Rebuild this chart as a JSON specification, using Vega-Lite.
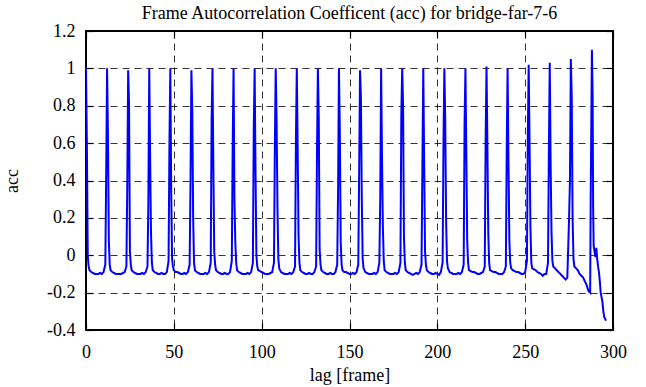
{
  "$schema": "https://vega.github.io/schema/vega-lite/v6.json",
  "width": 527,
  "height": 299,
  "autosize": {"type": "none"},
  "padding": {"left": 86, "top": 31, "right": 33, "bottom": 57},
  "background": "white",
  "config": {
    "view": {"stroke": "black", "strokeWidth": 2},
    "font": "Liberation Serif",
    "axis": {
      "labelFont": "Liberation Serif", "labelFontSize": 18, "labelColor": "black", "labelFlush": false,
      "titleFont": "Liberation Serif", "titleFontSize": 18, "titleFontWeight": "normal", "titleColor": "black",
      "domain": false, "tickColor": "black", "tickSize": -7, "tickWidth": 1.2,
      "gridColor": "black", "gridDash": [7, 5], "gridWidth": 0.8, "gridOpacity": 1
    }
  },
  "title": {"text": "Frame Autocorrelation Coefficent (acc) for bridge-far-7-6", "font": "Liberation Serif", "fontSize": 18, "fontWeight": "normal", "color": "black", "offset": 6, "dy": 7},
  "data": {"values": [
    {"lag":0,"acc":1.0},{"lag":0.5,"acc":0.59},{"lag":1,"acc":0.0},{"lag":1.5,"acc":-0.06},{"lag":2,"acc":-0.08},{"lag":3,"acc":-0.09},{"lag":4,"acc":-0.095},{"lag":5,"acc":-0.1},{"lag":6,"acc":-0.1},{"lag":7,"acc":-0.1},{"lag":8,"acc":-0.095},{"lag":9,"acc":-0.1},{"lag":10,"acc":-0.09},{"lag":11,"acc":-0.05},{"lag":11.5,"acc":0.44},
    {"lag":12,"acc":1.0},{"lag":12.5,"acc":0.64},{"lag":13,"acc":0.08},{"lag":13.5,"acc":-0.05},{"lag":14,"acc":-0.08},{"lag":15,"acc":-0.09},{"lag":16,"acc":-0.095},{"lag":17,"acc":-0.1},{"lag":18,"acc":-0.1},{"lag":19,"acc":-0.1},{"lag":20,"acc":-0.1},{"lag":21,"acc":-0.095},{"lag":22,"acc":-0.09},{"lag":23,"acc":-0.06},{"lag":23.5,"acc":0.38},
    {"lag":24,"acc":0.99},{"lag":24.5,"acc":0.81},{"lag":25,"acc":0.02},{"lag":25.5,"acc":-0.05},{"lag":26,"acc":-0.08},{"lag":27,"acc":-0.09},{"lag":28,"acc":-0.095},{"lag":29,"acc":-0.1},{"lag":30,"acc":-0.1},{"lag":31,"acc":-0.1},{"lag":32,"acc":-0.095},{"lag":33,"acc":-0.1},{"lag":34,"acc":-0.09},{"lag":35,"acc":-0.06},{"lag":35.5,"acc":0.28},
    {"lag":36,"acc":1.0},{"lag":36.5,"acc":0.52},{"lag":37,"acc":0.12},{"lag":37.5,"acc":-0.04},{"lag":38,"acc":-0.08},{"lag":39,"acc":-0.09},{"lag":40,"acc":-0.095},{"lag":41,"acc":-0.1},{"lag":42,"acc":-0.1},{"lag":43,"acc":-0.095},{"lag":44,"acc":-0.1},{"lag":45,"acc":-0.1},{"lag":46,"acc":-0.09},{"lag":47,"acc":-0.03},{"lag":47.5,"acc":0.6},
    {"lag":48,"acc":1.0},{"lag":48.5,"acc":0.35},{"lag":49,"acc":-0.02},{"lag":49.5,"acc":-0.06},{"lag":50,"acc":-0.08},{"lag":51,"acc":-0.09},{"lag":52,"acc":-0.09},{"lag":53,"acc":-0.095},{"lag":54,"acc":-0.1},{"lag":55,"acc":-0.1},{"lag":56,"acc":-0.095},{"lag":57,"acc":-0.1},{"lag":58,"acc":-0.09},{"lag":59,"acc":-0.05},{"lag":59.5,"acc":0.4},
    {"lag":60,"acc":0.99},{"lag":60.5,"acc":0.77},{"lag":61,"acc":0.2},{"lag":61.5,"acc":-0.04},{"lag":62,"acc":-0.08},{"lag":63,"acc":-0.09},{"lag":64,"acc":-0.095},{"lag":65,"acc":-0.1},{"lag":66,"acc":-0.1},{"lag":67,"acc":-0.1},{"lag":68,"acc":-0.095},{"lag":69,"acc":-0.1},{"lag":70,"acc":-0.09},{"lag":71,"acc":-0.04},{"lag":71.5,"acc":0.72},
    {"lag":72,"acc":1.0},{"lag":72.5,"acc":0.47},{"lag":73,"acc":0.02},{"lag":73.5,"acc":-0.05},{"lag":74,"acc":-0.08},{"lag":75,"acc":-0.09},{"lag":76,"acc":-0.095},{"lag":77,"acc":-0.1},{"lag":78,"acc":-0.1},{"lag":79,"acc":-0.095},{"lag":80,"acc":-0.1},{"lag":81,"acc":-0.1},{"lag":82,"acc":-0.09},{"lag":83,"acc":-0.03},{"lag":83.5,"acc":0.58},
    {"lag":84,"acc":1.0},{"lag":84.5,"acc":0.3},{"lag":85,"acc":0.07},{"lag":85.5,"acc":-0.04},{"lag":86,"acc":-0.08},{"lag":87,"acc":-0.09},{"lag":88,"acc":-0.095},{"lag":89,"acc":-0.1},{"lag":90,"acc":-0.1},{"lag":91,"acc":-0.1},{"lag":92,"acc":-0.095},{"lag":93,"acc":-0.1},{"lag":94,"acc":-0.09},{"lag":95,"acc":-0.04},{"lag":95.5,"acc":0.68},
    {"lag":96,"acc":1.0},{"lag":96.5,"acc":0.45},{"lag":97,"acc":0.0},{"lag":97.5,"acc":-0.06},{"lag":98,"acc":-0.08},{"lag":99,"acc":-0.085},{"lag":100,"acc":-0.09},{"lag":101,"acc":-0.095},{"lag":102,"acc":-0.1},{"lag":103,"acc":-0.1},{"lag":104,"acc":-0.1},{"lag":105,"acc":-0.095},{"lag":106,"acc":-0.09},{"lag":107,"acc":-0.04},{"lag":107.5,"acc":0.56},
    {"lag":108,"acc":1.0},{"lag":108.5,"acc":0.72},{"lag":109,"acc":0.25},{"lag":109.5,"acc":-0.02},{"lag":110,"acc":-0.07},{"lag":111,"acc":-0.09},{"lag":112,"acc":-0.095},{"lag":113,"acc":-0.1},{"lag":114,"acc":-0.1},{"lag":115,"acc":-0.1},{"lag":116,"acc":-0.095},{"lag":117,"acc":-0.1},{"lag":118,"acc":-0.09},{"lag":119,"acc":-0.06},{"lag":119.5,"acc":0.62},
    {"lag":120,"acc":1.0},{"lag":120.5,"acc":0.57},{"lag":121,"acc":0.1},{"lag":121.5,"acc":-0.04},{"lag":122,"acc":-0.08},{"lag":123,"acc":-0.09},{"lag":124,"acc":-0.095},{"lag":125,"acc":-0.1},{"lag":126,"acc":-0.1},{"lag":127,"acc":-0.095},{"lag":128,"acc":-0.1},{"lag":129,"acc":-0.1},{"lag":130,"acc":-0.09},{"lag":131,"acc":-0.06},{"lag":131.5,"acc":0.55},
    {"lag":132,"acc":1.0},{"lag":132.5,"acc":0.74},{"lag":133,"acc":0.03},{"lag":133.5,"acc":-0.05},{"lag":134,"acc":-0.08},{"lag":135,"acc":-0.09},{"lag":136,"acc":-0.095},{"lag":137,"acc":-0.1},{"lag":138,"acc":-0.1},{"lag":139,"acc":-0.095},{"lag":140,"acc":-0.1},{"lag":141,"acc":-0.1},{"lag":142,"acc":-0.09},{"lag":143,"acc":-0.05},{"lag":143.5,"acc":0.35},
    {"lag":144,"acc":1.0},{"lag":144.5,"acc":0.65},{"lag":145,"acc":0.07},{"lag":145.5,"acc":-0.05},{"lag":146,"acc":-0.08},{"lag":147,"acc":-0.09},{"lag":148,"acc":-0.09},{"lag":149,"acc":-0.095},{"lag":150,"acc":-0.1},{"lag":151,"acc":-0.1},{"lag":152,"acc":-0.095},{"lag":153,"acc":-0.1},{"lag":154,"acc":-0.09},{"lag":155,"acc":-0.05},{"lag":155.5,"acc":0.45},
    {"lag":156,"acc":0.99},{"lag":156.5,"acc":0.84},{"lag":157,"acc":0.3},{"lag":157.5,"acc":-0.02},{"lag":158,"acc":-0.07},{"lag":159,"acc":-0.09},{"lag":160,"acc":-0.095},{"lag":161,"acc":-0.1},{"lag":162,"acc":-0.1},{"lag":163,"acc":-0.1},{"lag":164,"acc":-0.095},{"lag":165,"acc":-0.1},{"lag":166,"acc":-0.09},{"lag":167,"acc":-0.04},{"lag":167.5,"acc":0.3},
    {"lag":168,"acc":1.0},{"lag":168.5,"acc":0.52},{"lag":169,"acc":0.15},{"lag":169.5,"acc":-0.03},{"lag":170,"acc":-0.08},{"lag":171,"acc":-0.09},{"lag":172,"acc":-0.095},{"lag":173,"acc":-0.1},{"lag":174,"acc":-0.1},{"lag":175,"acc":-0.1},{"lag":176,"acc":-0.095},{"lag":177,"acc":-0.1},{"lag":178,"acc":-0.09},{"lag":179,"acc":-0.04},{"lag":179.5,"acc":0.75},
    {"lag":180,"acc":1.0},{"lag":180.5,"acc":0.8},{"lag":181,"acc":0.1},{"lag":181.5,"acc":-0.04},{"lag":182,"acc":-0.08},{"lag":183,"acc":-0.09},{"lag":184,"acc":-0.095},{"lag":185,"acc":-0.1},{"lag":186,"acc":-0.105},{"lag":187,"acc":-0.1},{"lag":188,"acc":-0.095},{"lag":189,"acc":-0.1},{"lag":190,"acc":-0.09},{"lag":191,"acc":-0.05},{"lag":191.5,"acc":0.48},
    {"lag":192,"acc":1.0},{"lag":192.5,"acc":0.5},{"lag":193,"acc":0.02},{"lag":193.5,"acc":-0.05},{"lag":194,"acc":-0.08},{"lag":195,"acc":-0.09},{"lag":196,"acc":-0.095},{"lag":197,"acc":-0.1},{"lag":198,"acc":-0.1},{"lag":199,"acc":-0.095},{"lag":200,"acc":-0.1},{"lag":201,"acc":-0.105},{"lag":202,"acc":-0.09},{"lag":203,"acc":-0.04},{"lag":203.5,"acc":0.6},
    {"lag":204,"acc":1.0},{"lag":204.5,"acc":0.72},{"lag":205,"acc":0.18},{"lag":205.5,"acc":-0.03},{"lag":206,"acc":-0.07},{"lag":207,"acc":-0.09},{"lag":208,"acc":-0.095},{"lag":209,"acc":-0.1},{"lag":210,"acc":-0.1},{"lag":211,"acc":-0.1},{"lag":212,"acc":-0.095},{"lag":213,"acc":-0.1},{"lag":214,"acc":-0.09},{"lag":215,"acc":-0.05},{"lag":215.5,"acc":0.7},
    {"lag":216,"acc":1.0},{"lag":216.5,"acc":0.55},{"lag":217,"acc":0.08},{"lag":217.5,"acc":-0.04},{"lag":218,"acc":-0.08},{"lag":219,"acc":-0.085},{"lag":220,"acc":-0.09},{"lag":221,"acc":-0.09},{"lag":222,"acc":-0.095},{"lag":223,"acc":-0.1},{"lag":224,"acc":-0.1},{"lag":225,"acc":-0.095},{"lag":226,"acc":-0.09},{"lag":227,"acc":-0.06},{"lag":227.5,"acc":0.62},
    {"lag":228,"acc":1.01},{"lag":228.5,"acc":0.58},{"lag":229,"acc":0.12},{"lag":229.5,"acc":-0.04},{"lag":230,"acc":-0.08},{"lag":231,"acc":-0.085},{"lag":232,"acc":-0.09},{"lag":233,"acc":-0.09},{"lag":234,"acc":-0.095},{"lag":235,"acc":-0.1},{"lag":236,"acc":-0.1},{"lag":237,"acc":-0.1},{"lag":238,"acc":-0.09},{"lag":239,"acc":-0.06},{"lag":239.5,"acc":0.55},
    {"lag":240,"acc":1.0},{"lag":240.5,"acc":0.5},{"lag":241,"acc":0.08},{"lag":241.5,"acc":-0.04},{"lag":242,"acc":-0.07},{"lag":243,"acc":-0.08},{"lag":244,"acc":-0.085},{"lag":245,"acc":-0.09},{"lag":246,"acc":-0.09},{"lag":247,"acc":-0.095},{"lag":248,"acc":-0.1},{"lag":249,"acc":-0.1},{"lag":250,"acc":-0.09},{"lag":251,"acc":-0.03},{"lag":251.5,"acc":0.63},
    {"lag":252,"acc":1.02},{"lag":252.5,"acc":0.6},{"lag":253,"acc":0.15},{"lag":253.5,"acc":-0.04},{"lag":254,"acc":-0.07},{"lag":255,"acc":-0.075},{"lag":256,"acc":-0.08},{"lag":257,"acc":-0.09},{"lag":258,"acc":-0.095},{"lag":259,"acc":-0.1},{"lag":260,"acc":-0.11},{"lag":261,"acc":-0.1},{"lag":262,"acc":-0.1},{"lag":263,"acc":-0.04},{"lag":263.5,"acc":0.55},
    {"lag":264,"acc":1.03},{"lag":264.5,"acc":0.48},{"lag":265,"acc":0.12},{"lag":265.5,"acc":-0.03},{"lag":266,"acc":-0.06},{"lag":267,"acc":-0.07},{"lag":268,"acc":-0.08},{"lag":269,"acc":-0.09},{"lag":270,"acc":-0.1},{"lag":271,"acc":-0.11},{"lag":272,"acc":-0.12},{"lag":273,"acc":-0.13},{"lag":274,"acc":-0.12},{"lag":275,"acc":0.2},{"lag":275.5,"acc":0.4},
    {"lag":276,"acc":1.05},{"lag":276.5,"acc":0.85},{"lag":277,"acc":0.2},{"lag":277.5,"acc":-0.02},{"lag":278,"acc":-0.06},{"lag":279,"acc":-0.07},{"lag":280,"acc":-0.08},{"lag":281,"acc":-0.1},{"lag":282,"acc":-0.11},{"lag":283,"acc":-0.12},{"lag":284,"acc":-0.14},{"lag":285,"acc":-0.16},{"lag":286,"acc":-0.19},{"lag":287,"acc":-0.2},{"lag":287.3,"acc":0.3},
    {"lag":288,"acc":1.1},{"lag":288.4,"acc":0.85},{"lag":288.7,"acc":0.25},{"lag":289,"acc":0.05},{"lag":289.5,"acc":0.02},{"lag":290,"acc":-0.01},{"lag":290.5,"acc":0.04},{"lag":291,"acc":-0.02},{"lag":291.5,"acc":-0.06},{"lag":292,"acc":-0.09},{"lag":292.5,"acc":-0.14},{"lag":293,"acc":-0.2},{"lag":294,"acc":-0.25},{"lag":294.5,"acc":-0.3},{"lag":295,"acc":-0.33},{"lag":296,"acc":-0.35}
  ]},
  "layer": [
    {
      "mark": {"type": "line", "color": "#0000FF", "strokeWidth": 2, "clip": true},
      "encoding": {
        "x": {"field": "lag", "type": "quantitative", "scale": {"domain": [0, 300], "nice": false, "zero": false},
              "axis": {"orient": "bottom", "values": [0, 50, 100, 150, 200, 250, 300], "title": "lag [frame]", "labelFont": "Liberation Serif", "titleFont": "Liberation Serif", "labelPadding": 20, "titlePadding": 5, "grid": true}},
        "y": {"field": "acc", "type": "quantitative", "scale": {"domain": [-0.4, 1.2], "nice": false, "zero": false},
              "axis": {"orient": "left", "values": [-0.4, -0.2, 0, 0.2, 0.4, 0.6, 0.8, 1, 1.2], "labelExpr": "'' + datum.value", "title": "acc", "labelFont": "Liberation Serif", "titleFont": "Liberation Serif", "labelPadding": 18, "titlePadding": 25, "grid": true}}
      }
    },
    {
      "mark": {"type": "line", "opacity": 0, "clip": true},
      "encoding": {
        "x": {"field": "lag", "type": "quantitative", "scale": {"domain": [0, 300], "nice": false, "zero": false},
              "axis": {"orient": "top", "values": [0, 50, 100, 150, 200, 250, 300], "labels": false, "title": null, "grid": false}},
        "y": {"field": "acc", "type": "quantitative", "scale": {"domain": [-0.4, 1.2], "nice": false, "zero": false},
              "axis": {"orient": "right", "values": [-0.4, -0.2, 0, 0.2, 0.4, 0.6, 0.8, 1, 1.2], "labels": false, "title": null, "grid": false}}
      }
    }
  ],
  "resolve": {"axis": {"x": "independent", "y": "independent"}}
}
